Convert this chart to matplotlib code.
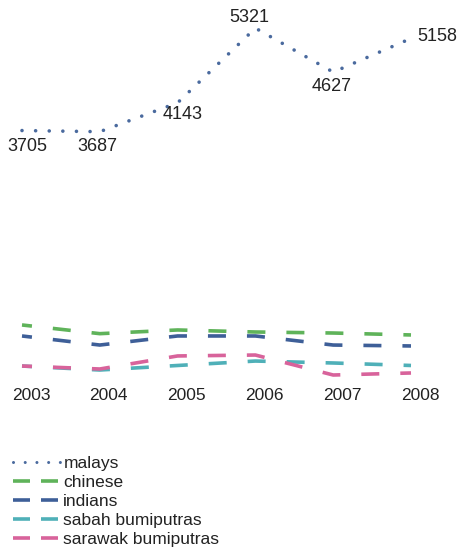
import matplotlib
matplotlib.use("Agg")
import matplotlib.pyplot as plt
from matplotlib.lines import Line2D
import numpy as np

years = ["2003", "2004", "2005", "2006", "2007", "2008"]
malays = [3705, 3687, 4143, 5321, 4627, 5158]
chinese = [64.9, 55.5, 59.5, 57.3, 56.2, 54.1]
indians = [53.0, 43.2, 53.0, 53.0, 43.2, 42.2]
sabah = [20.5, 16.2, 21.1, 25.9, 23.8, 21.1]
sarawak = [20.5, 17.3, 31.4, 32.4, 10.8, 13.0]

series_names = ["malays", "chinese", "indians", "sabah bumiputras", "sarawak bumiputras"]
colors = ["#4a6a9e", "#5fb35a", "#3e5f98", "#4fb0b8", "#d8639b"]

plt.rcParams['font.family'] = ['Liberation Sans', 'DejaVu Sans']
plt.rcParams['lines.scale_dashes'] = False

W, H = 459, 551
fig = plt.figure(figsize=(W / 100, H / 100), dpi=100)
ax = fig.add_axes([10 / W, (H - 385) / H, 420 / W, 370 / H])
ax2 = ax.twinx()

x = np.arange(len(years))
px = 0.72  # points per pixel

# malays - dotted
ax.plot(x, malays, color=colors[0], lw=2.6, linestyle=(0, (0.01, 13.6 * px)),
        dash_capstyle='round', solid_capstyle='round')

dash = (18 * px, 21 * px)
for vals, c in zip([chinese, indians, sabah, sarawak], colors[1:]):
    ax2.plot(x, vals, color=c, lw=2.6, linestyle=(8 * px, dash), dash_capstyle='butt')

ax.set_xlim(-12 / 77.8, (430 - 22) / 77.8)
ax.set_ylim(-310, 5528)
ax2.set_ylim(0, 400)

# data labels (pixel offsets: right, up)
offsets = [(5, -16), (-2, -15), (5, -12), (-6, 11), (-2, -14), (26, 2)]
for xi, v, off in zip(x, malays, offsets):
    ax.annotate(str(v), (xi, v), xytext=off, textcoords='offset pixels',
                ha='center', va='center', fontsize=13, color='#222222')

for a in (ax, ax2):
    for s in a.spines.values():
        s.set_visible(False)
ax.set_yticks([])
ax2.set_yticks([])
ax.set_xticks(x + 0.115, labels=years)
ax.tick_params(axis='x', length=0, pad=2, labelsize=12.5, labelcolor='#222222')

handles = [Line2D([], [], color=colors[0], lw=2.2, linestyle=(0, (0.01, 11.7 * px)), dash_capstyle='round')]
for c in colors[1:]:
    handles.append(Line2D([], [], color=c, lw=2.6, linestyle=(0, (17 * px, 11 * px))))
fig.legend(handles, series_names, loc='upper left', bbox_to_anchor=(13 / W, 1 - 456 / H),
           frameon=False, fontsize=12.5, handlelength=2.75, handletextpad=0.15,
           labelspacing=0.22, borderpad=0, borderaxespad=0, labelcolor='#222222')

fig.savefig("out.png", dpi=100)
